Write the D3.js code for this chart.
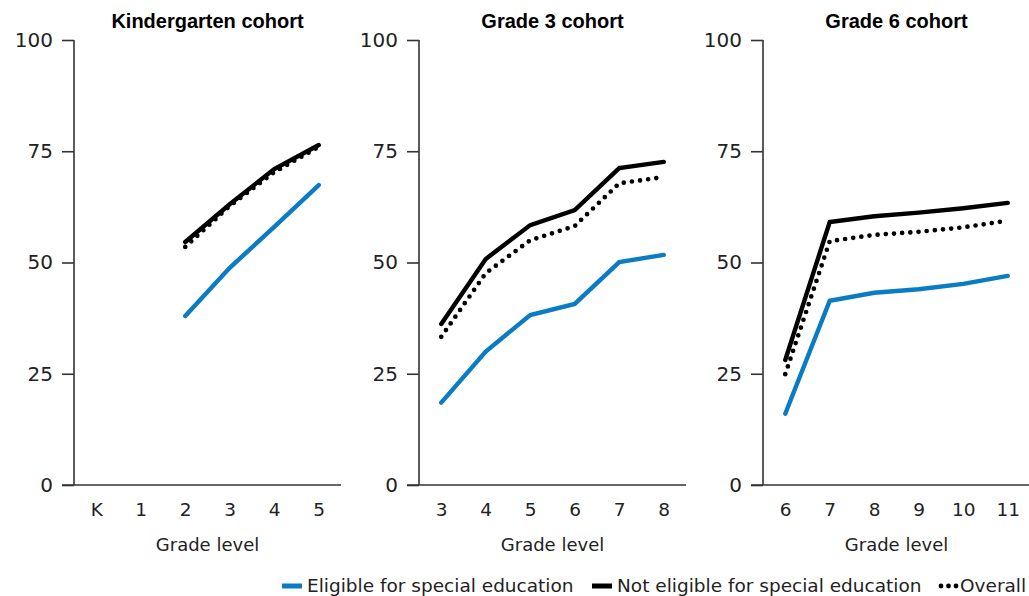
<!DOCTYPE html>
<html><head><meta charset="utf-8">
<script src="https://cdn.jsdelivr.net/npm/d3@7"></script>
<style>body{margin:0;background:#fff}svg{display:block}</style>
</head><body>
<script>
const panelTitles = ["Kindergarten cohort", "Grade 3 cohort", "Grade 6 cohort"];
const gradesK = ["K", "1", "2", "3", "4", "5"];
const grades3 = ["3", "4", "5", "6", "7", "8"];
const grades6 = ["6", "7", "8", "9", "10", "11"];
// Kindergarten cohort (grades 2–5 observed)
const k_grades = ["2", "3", "4", "5"];
const k_eligible = [38.0, 48.8, 58.0, 67.4];
const k_notEligible = [54.6, 63.1, 71.0, 76.4];
const k_overall = [53.5, 62.7, 70.3, 76.0];
// Grade 3 cohort
const g3_eligible = [18.5, 30.0, 38.2, 40.7, 50.1, 51.7];
const g3_notEligible = [36.2, 50.8, 58.4, 61.8, 71.2, 72.6];
const g3_overall = [33.3, 47.6, 55.0, 58.2, 67.8, 69.2];
// Grade 6 cohort
const g6_eligible = [16.0, 41.4, 43.2, 44.0, 45.2, 47.0];
const g6_notEligible = [28.1, 59.1, 60.4, 61.2, 62.2, 63.4];
const g6_overall = [24.9, 54.8, 56.2, 56.9, 57.9, 59.4];
const yTicks = [0, 25, 50, 75, 100];
const seriesNames = ["Eligible for special education", "Not eligible for special education", "Overall"];

(function () {
const panels = [
  {title: panelTitles[0], domain: gradesK, x: k_grades, s: [k_eligible, k_notEligible, k_overall]},
  {title: panelTitles[1], domain: grades3, x: grades3, s: [g3_eligible, g3_notEligible, g3_overall]},
  {title: panelTitles[2], domain: grades6, x: grades6, s: [g6_eligible, g6_notEligible, g6_overall]}
];

const W = 1029, H = 596;
const FONT = "'DejaVu Sans', sans-serif";
const BLUE = "#0a7cc4";
const svg = d3.select("body").append("svg").attr("width", W).attr("height", H);

const plotTop = 40, plotBottom = 485, pw = 267;
const lefts = [74, 419, 763];
const y = d3.scaleLinear().domain([0, 100]).range([plotBottom, plotTop]);

const styles = [
  {stroke: BLUE, width: 4.4, dash: null},
  {stroke: "#000", width: 4.4, dash: null},
  {stroke: "#000", width: 4.7, dash: "0,8.2"}
];

panels.forEach((p, i) => {
  const L = lefts[i];
  const g = svg.append("g");
  const x = d3.scalePoint().domain(p.domain).range([L, L + pw]).padding(0.5);

  const ya = g.append("g").attr("transform", `translate(${L},0)`)
    .call(d3.axisLeft(y).tickValues(yTicks).tickSize(12).tickPadding(9));
  ya.select(".domain").attr("d", `M0,${plotTop}V${plotBottom}`).attr("stroke", "#333").attr("stroke-width", 1.6);
  ya.selectAll(".tick line").attr("stroke", "#333").attr("stroke-width", 1.6);
  ya.selectAll(".tick text").attr("font-family", FONT).attr("font-size", 20).attr("fill", "#222");

  const xa = g.append("g").attr("transform", `translate(0,${plotBottom})`)
    .call(d3.axisBottom(x).tickSize(0).tickPadding(18));
  xa.select(".domain").attr("d", `M${L - 12},0H${L + pw}`).attr("stroke", "#333").attr("stroke-width", 1.6);
  xa.selectAll(".tick text").attr("font-family", FONT).attr("font-size", 18.5).attr("fill", "#222");

  g.append("text").attr("x", L + pw / 2).attr("y", 551).attr("text-anchor", "middle")
    .attr("font-family", FONT).attr("font-size", 18).attr("fill", "#222").text("Grade level");

  g.append("text").attr("x", L + pw / 2).attr("y", 28).attr("text-anchor", "middle")
    .attr("font-family", "'Liberation Sans', Arial, sans-serif").attr("font-weight", "bold")
    .attr("font-size", 20).attr("fill", "#000").text(p.title);

  p.s.forEach((vals, si) => {
    const st = styles[si];
    const line = d3.line().x((d, j) => x(p.x[j])).y(d => y(d));
    const path = g.append("path").datum(vals).attr("d", line).attr("fill", "none")
      .attr("stroke", st.stroke).attr("stroke-width", st.width)
      .attr("stroke-linecap", "round").attr("stroke-linejoin", "miter");
    if (st.dash) path.attr("stroke-dasharray", st.dash);
  });
});

const lg = svg.append("g");
const legendItems = [
  {name: seriesNames[0], sx: 282, tx: 307},
  {name: seriesNames[1], sx: 592, tx: 617},
  {name: seriesNames[2], sx: 938, tx: 960}
];
legendItems.forEach((it, i) => {
  const st = styles[i];
  if (i < 2) {
    lg.append("line").attr("x1", it.sx).attr("x2", it.sx + 20).attr("y1", 586).attr("y2", 586)
      .attr("stroke", st.stroke).attr("stroke-width", 5);
  } else {
    lg.selectAll(".ld").data([0, 1, 2]).enter().append("circle")
      .attr("cx", d => it.sx + 3 + d * 7.5).attr("cy", 586).attr("r", 2.4).attr("fill", "#000");
  }
  lg.append("text").attr("x", it.tx).attr("y", 592).attr("font-family", FONT).attr("font-size", 18.5)
    .attr("fill", "#222").text(it.name);
});
})();
</script>
</body></html>
